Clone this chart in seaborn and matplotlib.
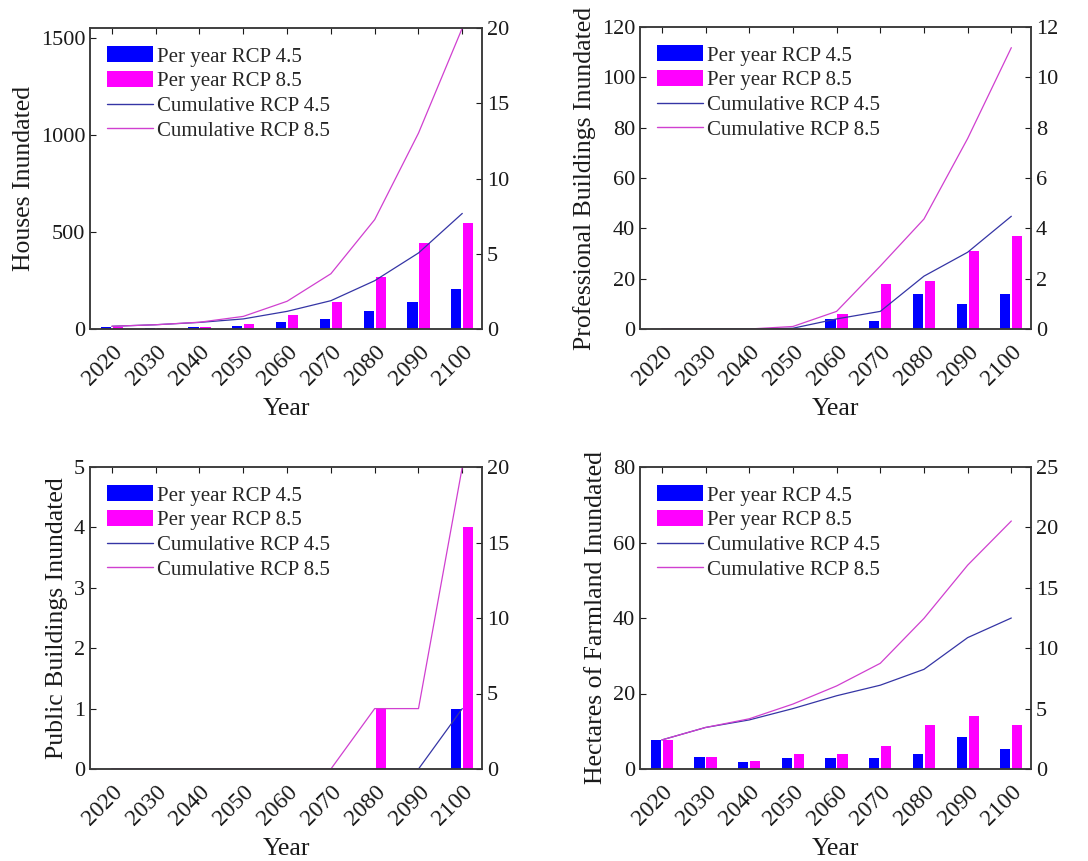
import numpy as np
import pandas as pd
import seaborn as sns
import matplotlib.pyplot as plt
import matplotlib.transforms as mtransforms
from matplotlib.patches import Patch
from matplotlib.lines import Line2D

years = [2020, 2030, 2040, 2050, 2060, 2070, 2080, 2090, 2100]

# houses
houses_45 = [8, 3, 10, 17, 34, 53, 91, 141, 206]
houses_85 = [8, 3, 12, 27, 74, 139, 270, 443, 548]
houses_cum_45 = [14, 22, 34, 52, 91, 146, 249, 392, 596]
houses_cum_85 = [14, 22, 35, 65, 143, 285, 564, 1010, 1552]

# professional buildings
prof_45 = [0, 0, 0, 0, 4, 3, 14, 10, 14]
prof_85 = [0, 0, 0, 0, 6, 18, 19, 31, 37]
prof_cum_45 = [0, 0, 0, 0.3, 4, 7, 21, 30.5, 44.8]
prof_cum_85 = [0, 0, 0, 1, 7, 25, 43.7, 75.7, 111.8]

# public buildings
pub_45 = [0, 0, 0, 0, 0, 0, 0, 0, 1]
pub_85 = [0, 0, 0, 0, 0, 0, 1, 0, 4]
pub_cum_45 = [0, 0, 0, 0, 0, 0, 0, 0, 1]
pub_cum_85 = [0, 0, 0, 0, 0, 0, 1, 1, 5]

# farmland (ha)
farm_45 = [7.7, 3.1, 1.8, 3.0, 2.8, 2.8, 4.0, 8.4, 5.2]
farm_85 = [7.7, 3.3, 2.1, 4.1, 4.0, 6.1, 11.6, 14.0, 11.6]
farm_cum_45 = [7.7, 11, 13, 16, 19.4, 22.2, 26.4, 34.8, 40]
farm_cum_85 = [7.7, 11, 13.3, 17.2, 22, 28, 39.9, 54, 65.7]

panels = [
    ("Houses Inundated", houses_45, houses_85, houses_cum_45, houses_cum_85,
     (0, 1552), [0, 500, 1000, 1500], (0, 20), [0, 5, 10, 15, 20]),
    ("Professional Buildings Inundated", prof_45, prof_85, prof_cum_45, prof_cum_85,
     (0, 120), [0, 20, 40, 60, 80, 100, 120], (0, 12), [0, 2, 4, 6, 8, 10, 12]),
    ("Public Buildings Inundated", pub_45, pub_85, pub_cum_45, pub_cum_85,
     (0, 5), [0, 1, 2, 3, 4, 5], (0, 20), [0, 5, 10, 15, 20]),
    ("Hectares of Farmland Inundated", farm_45, farm_85, farm_cum_45, farm_cum_85,
     (0, 80), [0, 20, 40, 60, 80], (0, 25), [0, 5, 10, 15, 20, 25]),
]

sns.set_style("white")
plt.rcParams['font.family'] = ['Liberation Serif', 'DejaVu Serif']
plt.rcParams['axes.edgecolor'] = '#3a3a3a'

BLUE = '#0000FF'
MAGENTA = '#FF00FF'
LINE45 = '#3535A5'
LINE85 = '#D040D0'
TXT = '#1a1a1a'

fig = plt.figure(figsize=(10.88, 8.61), dpi=100)
W, H = 1088, 861
boxes = [(90, 28, 482, 329), (640, 27, 1031, 329),
         (90, 467, 482, 769), (640, 467, 1031, 769)]

for (label, b45, b85, c45, c85, ylim, yticks, rlim, rticks), (x0, y0, x1, y1) in zip(panels, boxes):
    ax = fig.add_axes([x0 / W, 1 - y1 / H, (x1 - x0) / W, (y1 - y0) / H])
    df = pd.DataFrame({
        'Year': years * 2,
        'Value': b45 + b85,
        'Scenario': ['Per year RCP 4.5'] * 9 + ['Per year RCP 8.5'] * 9,
    })
    sns.barplot(data=df, x='Year', y='Value', hue='Scenario', native_scale=True,
                palette=[BLUE, MAGENTA], width=0.55, gap=0.15, saturation=1,
                edgecolor='none', legend=False, ax=ax)
    sns.lineplot(x=years, y=c45, color=LINE45, linewidth=0.9, ax=ax, zorder=1.5)
    sns.lineplot(x=years, y=c85, color=LINE85, linewidth=0.9, ax=ax, zorder=1.5)

    ax.set_xlim(2015, 2104.5)
    ax.set_ylim(*ylim)
    ax.set_yticks(yticks)
    ax.set_xticks(years)
    ax.set_xticklabels([str(y) for y in years], rotation=45, ha='right',
                       rotation_mode='anchor')
    shift = mtransforms.ScaledTranslation(10 / 100, 0, fig.dpi_scale_trans)
    for t in ax.get_xticklabels():
        t.set_transform(t.get_transform() + shift)
        t.set_fontsize(17)
    ax.tick_params(axis='both', direction='in', colors=TXT,
                   length=4, width=0.8, top=True)
    ax.tick_params(axis='y', labelsize=16)
    ax.tick_params(axis='x', pad=9)
    ax.set_xlabel('Year', fontsize=18.5, color=TXT, labelpad=6)
    ax.set_ylabel(label, fontsize=18.5, color=TXT, labelpad=4)
    for s in ax.spines.values():
        s.set_zorder(3)
        s.set_linewidth(1.1)

    ax2 = ax.twinx()
    ax2.set_ylim(*rlim)
    ax2.set_yticks(rticks)
    ax2.tick_params(axis='y', direction='in', labelsize=16, colors=TXT,
                    length=4, width=0.8)
    ax2.grid(False)
    for s in ax2.spines.values():
        s.set_linewidth(1.1)

    handles = [
        Patch(facecolor=BLUE, edgecolor='none'),
        Patch(facecolor=MAGENTA, edgecolor='none'),
        Line2D([], [], color=LINE45, linewidth=1.0),
        Line2D([], [], color=LINE85, linewidth=1.0),
    ]
    ax.legend(handles, ['Per year RCP 4.5', 'Per year RCP 8.5',
                        'Cumulative RCP 4.5', 'Cumulative RCP 8.5'],
              loc='upper left', frameon=False, fontsize=15,
              handlelength=2.2, handleheight=0.8, handletextpad=0.2,
              labelspacing=0.22, borderaxespad=0.0,
              bbox_to_anchor=(9 / (x1 - x0), 1 - 10 / (y1 - y0)))

fig.savefig('out.png', dpi=100)
